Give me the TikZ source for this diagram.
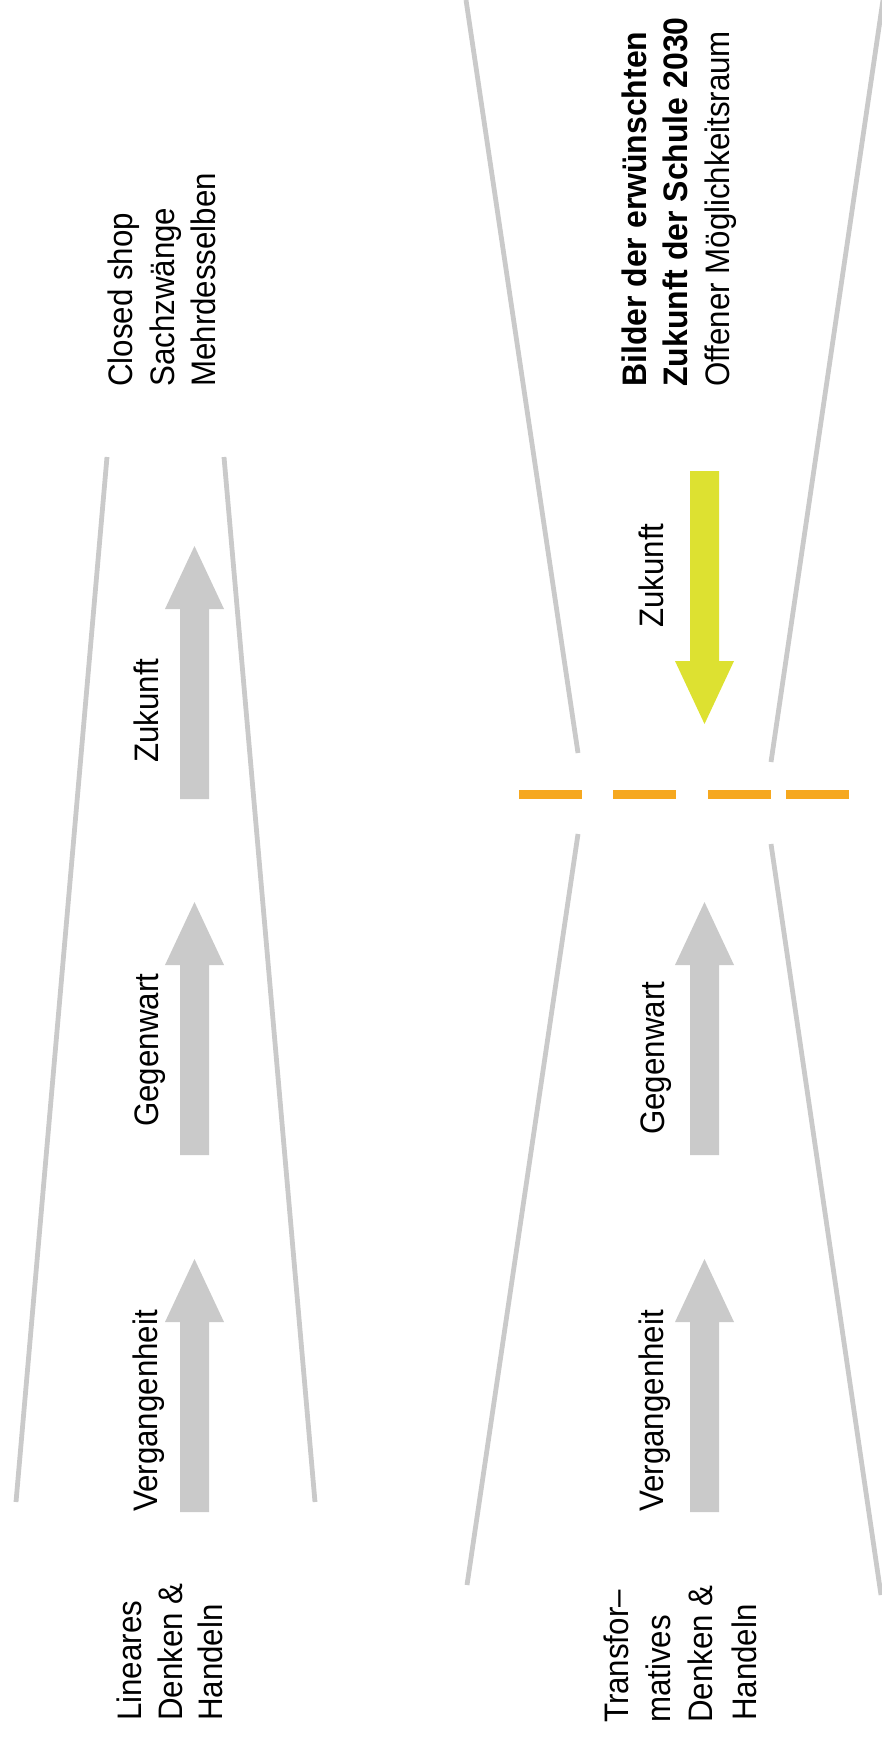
\documentclass[tikz,border=0pt]{standalone}
\usepackage{fontspec}
\setmainfont{Liberation Sans}[FakeStretch=0.92]
\newfontfamily\boldfont{Liberation Sans}[FakeStretch=0.94]
\definecolor{lgrey}{HTML}{CACACA}
\definecolor{arrowyellow}{HTML}{DDE131}
\definecolor{dashorange}{HTML}{F6A81F}
\begin{document}
\begin{tikzpicture}[x=1pt,y=-1pt,
  txt/.style={rotate=90,anchor=base west,inner sep=0pt,font=\fontsize{34}{40}\selectfont},
  btxt/.style={txt,font=\boldfont\bfseries\fontsize{34}{40}\selectfont},
  funnel/.style={draw=lgrey,line width=4.8pt},
  dashseg/.style={draw=dashorange,line width=9.3pt},
  pics/fatup/.style={code={\fill[#1] (-14.5,0) -- (-14.5,-190) -- (-29.5,-190) -- (0,-253) -- (29.5,-190) -- (14.5,-190) -- (14.5,0) -- cycle;}}
]
\useasboundingbox (0,0) rectangle (882,1739);

% left funnel
\coordinate (l1t) at (107,457);
\coordinate (l1b) at (16,1502);
\coordinate (r1t) at (224,457);
\coordinate (r1b) at (315,1502);
\draw[funnel] (l1t) -- (l1b);
\draw[funnel] (r1t) -- (r1b);

% hourglass
\coordinate (ult) at (466,0);
\coordinate (ulb) at (578,753);
\coordinate (urt) at (883,0);
\coordinate (urb) at (771,762);
\coordinate (llt) at (578,834);
\coordinate (llb) at (467,1585);
\coordinate (lrt) at (771,844);
\coordinate (lrb) at (881,1595);
\draw[funnel] (ult) -- (ulb);
\draw[funnel] (urt) -- (urb);
\draw[funnel] (llt) -- (llb);
\draw[funnel] (lrt) -- (lrb);

% orange dashes
\coordinate (d1a) at (519,794.5); \coordinate (d1b) at (582,794.5);
\coordinate (d2a) at (613,794.5); \coordinate (d2b) at (676,794.5);
\coordinate (d3a) at (708,794.5); \coordinate (d3b) at (771,794.5);
\coordinate (d4a) at (786,794.5); \coordinate (d4b) at (849,794.5);
\draw[dashseg] (d1a) -- (d1b);
\draw[dashseg] (d2a) -- (d2b);
\draw[dashseg] (d3a) -- (d3b);
\draw[dashseg] (d4a) -- (d4b);

% arrows
\pic at (194.5,1512) {fatup=lgrey};
\pic at (194.5,1155) {fatup=lgrey};
\pic at (194.5,799) {fatup=lgrey};
\pic at (704.5,1512) {fatup=lgrey};
\pic at (704.5,1155) {fatup=lgrey};
\pic[rotate=180] at (704.5,471) {fatup=arrowyellow};

% labels left
\node[txt] (lv) at (157,1512) {Vergangenheit};
\node[txt] (lg) at (158,1127) {Gegenwart};
\node[txt] (lz) at (158,763) {Zukunft};
\node[txt] (c1) at (132.7,387) {Closed shop};
\node[txt] (c2) at (174,387) {Sachzwänge};
\node[txt] (c3) at (215,387) {Mehrdesselben};
\node[txt] (a1) at (141.7,1721) {Lineares};
\node[txt] (a2) at (182.7,1721) {Denken \&};
\node[txt] (a3) at (222.7,1721) {Handeln};

% labels right
\node[txt] (rv) at (663,1512) {Vergangenheit};
\node[txt] (rg) at (664,1135) {Gegenwart};
\node[txt] (rz) at (663,628) {Zukunft};
\node[btxt] (b1) at (646.7,387) {Bilder der erwünschten};
\node[btxt] (b2) at (687.3,387) {Zukunft der Schule 2030};
\node[txt] (b3) at (729,387) {Offener Möglichkeitsraum};
\node[txt] (t1) at (628.3,1723) {Transfor–};
\node[txt] (t2) at (670.7,1723) {matives};
\node[txt] (t3) at (712.3,1723) {Denken \&};
\node[txt] (t4) at (756,1721) {Handeln};
\end{tikzpicture}
\end{document}
